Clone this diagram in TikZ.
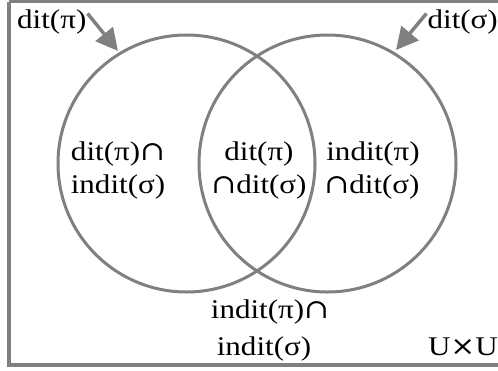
\documentclass[tikz,border=0pt]{standalone}
\usepackage{fontspec}
\setmainfont{Liberation Serif}[FakeStretch=1.15]
\newfontfamily\opfont{DejaVu Serif}[FakeStretch=1.1]
\newcommand{\capop}{{\opfont ∩}}
\newcommand{\timesop}{{\opfont ×}}
\usetikzlibrary{arrows.meta}

\tikzset{
  venn/.style={draw=ringgray, line width=3pt},
  lbl/.style={inner sep=0pt, anchor=base, font=\fontsize{27}{35}\selectfont},
  pointer/.style={draw=ringgray, line width=3.5pt, -{Triangle[length=22pt, width=22pt]}}
}
\definecolor{ringgray}{HTML}{808080}

\begin{document}
\begin{tikzpicture}[x=1pt, y=-1pt]

  %% ════ canvas ════
  \path[use as bounding box] (0,0) rectangle (498,370);
  \clip (0,0) rectangle (498,370);

  %% ════ frame U x U ════
  \draw[ringgray, line width=3.5pt] (9,1.5) -- (520,1.5);
  \draw[ringgray, line width=3.5pt] (9,1.5) -- (9,365) -- (520,365);

  %% ════ circles ════
  \draw[venn] (186.5,163.5) circle (128.5);
  \draw[venn] (327.5,163.5) circle (128.5);

  %% ════ region labels ════
  \node[lbl] (lpA) at (118,160) {dit(π)\capop};
  \node[lbl] (lpB) at (118,193) {indit(σ)};
  \node[lbl] (mdA) at (259,160) {dit(π)};
  \node[lbl] (mdB) at (259,193) {\capop dit(σ)};
  \node[lbl] (rtA) at (373,160) {indit(π)};
  \node[lbl] (rtB) at (372,193) {\capop dit(σ)};
  \node[lbl] (btA) at (270,318) {indit(π)\capop};
  \node[lbl] (btB) at (264,355) {indit(σ)};
  \node[lbl, anchor=base east] (uxu) at (498,355) {U\timesop U};

  %% ════ set names + pointers ════
  \node[lbl, anchor=base west] (nmPi) at (17,28) {dit(π)};
  \node[lbl, anchor=base east] (nmSig) at (498,28) {dit(σ)};
  \coordinate (tipPi) at (118,51);
  \coordinate (tipSig) at (396,50);
  \draw[pointer] (nmPi.east) ++(1,-8) -- (tipPi);
  \draw[pointer] (nmSig.west) ++(-1,-8) -- (tipSig);

\end{tikzpicture}
\end{document}
